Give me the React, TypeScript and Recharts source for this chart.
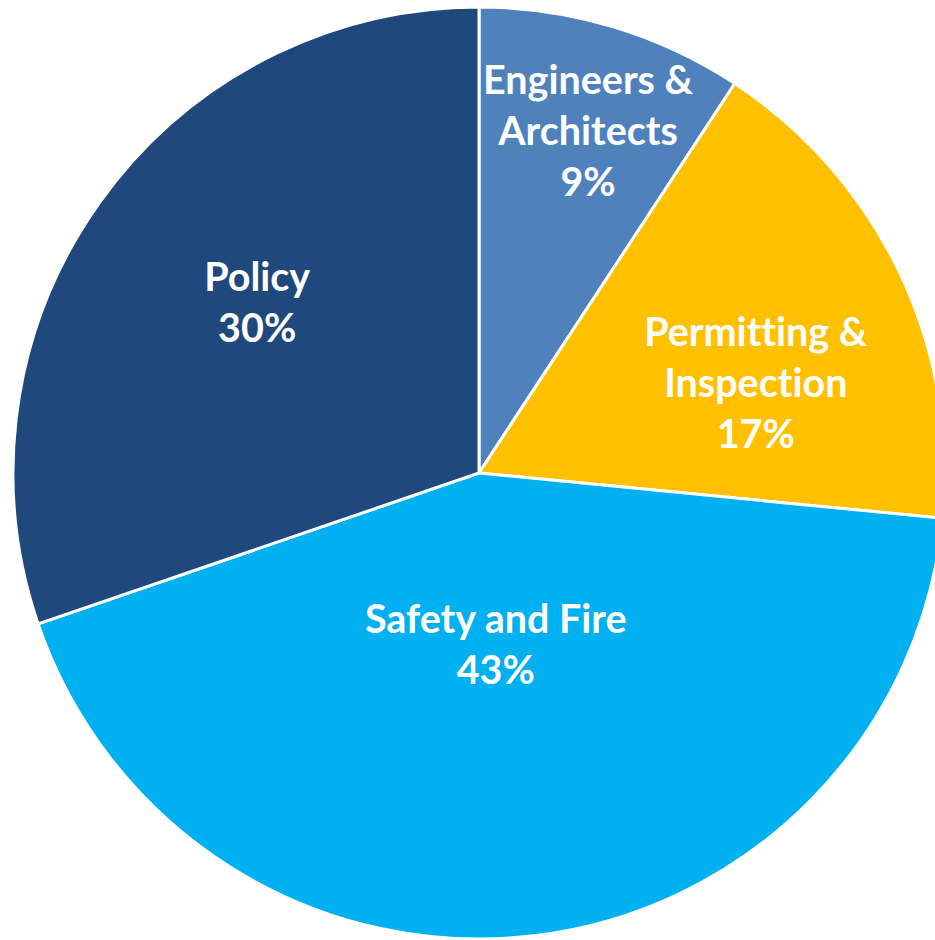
import React from 'react';
import { PieChart, Pie, Cell } from 'recharts';

// Share of respondents by department (percent)
const categories = ['Engineers & Architects', 'Permitting & Inspection', 'Safety and Fire', 'Policy'];
const shares = [9.25, 17.3, 43.2, 30.25];
const colors = ['#4F81BD', '#FFC000', '#00B0F0', '#1F497D'];

const data = categories.map((name, i) => ({ name, value: shares[i] }));

// where Excel's "best fit" put each label, relative to the centre, in outer radii
const labelOffsets = [
  [0.234, -0.732],
  [0.594, -0.192],
  [0.036, 0.37],
  [-0.476, -0.364],
];

const LINE_HEIGHT = 51;
const CAP = 27;

function splitName(name: string) {
  if (name.includes(' & ')) {
    const [a, b] = name.split(' & ');
    return [a + ' &', b];
  }
  return [name];
}

function renderLabel(props: any) {
  const { cx, cy, outerRadius, index, name, percent } = props;
  const [ox, oy] = labelOffsets[index];
  const x = cx + ox * outerRadius;
  const y = cy + oy * outerRadius;
  const lines = [...splitName(name), `${Math.round(percent * 100)}%`];
  const firstBaseline = y - ((lines.length - 1) * LINE_HEIGHT + CAP) / 2 + CAP;
  return (
    <text
      x={x}
      y={firstBaseline}
      fill="#ffffff"
      textAnchor="middle"
      fontFamily="Lato, 'Open Sans', sans-serif"
      fontWeight={700}
      fontSize={39.5}
      style={{ fontVariantLigatures: 'none' }}
    >
      {lines.map((line, i) => (
        <tspan key={i} x={x} y={firstBaseline + i * LINE_HEIGHT}>
          {line}
        </tspan>
      ))}
    </text>
  );
}

export default function App() {
  return (
    <div style={{ position: 'absolute', left: 0, top: 0, width: 935, height: 940, background: '#fff' }}>
      <PieChart width={935} height={940} margin={{ top: 0, right: 0, bottom: 0, left: 0 }}>
        <Pie
          data={data}
          dataKey="value"
          nameKey="name"
          cx={479}
          cy={473}
          outerRadius={466}
          startAngle={90}
          endAngle={-270}
          stroke="#ffffff"
          strokeWidth={3}
          label={renderLabel}
          labelLine={false}
          isAnimationActive={false}
        >
          {data.map((d, i) => (
            <Cell key={d.name} fill={colors[i]} />
          ))}
        </Pie>
      </PieChart>
    </div>
  );
}
